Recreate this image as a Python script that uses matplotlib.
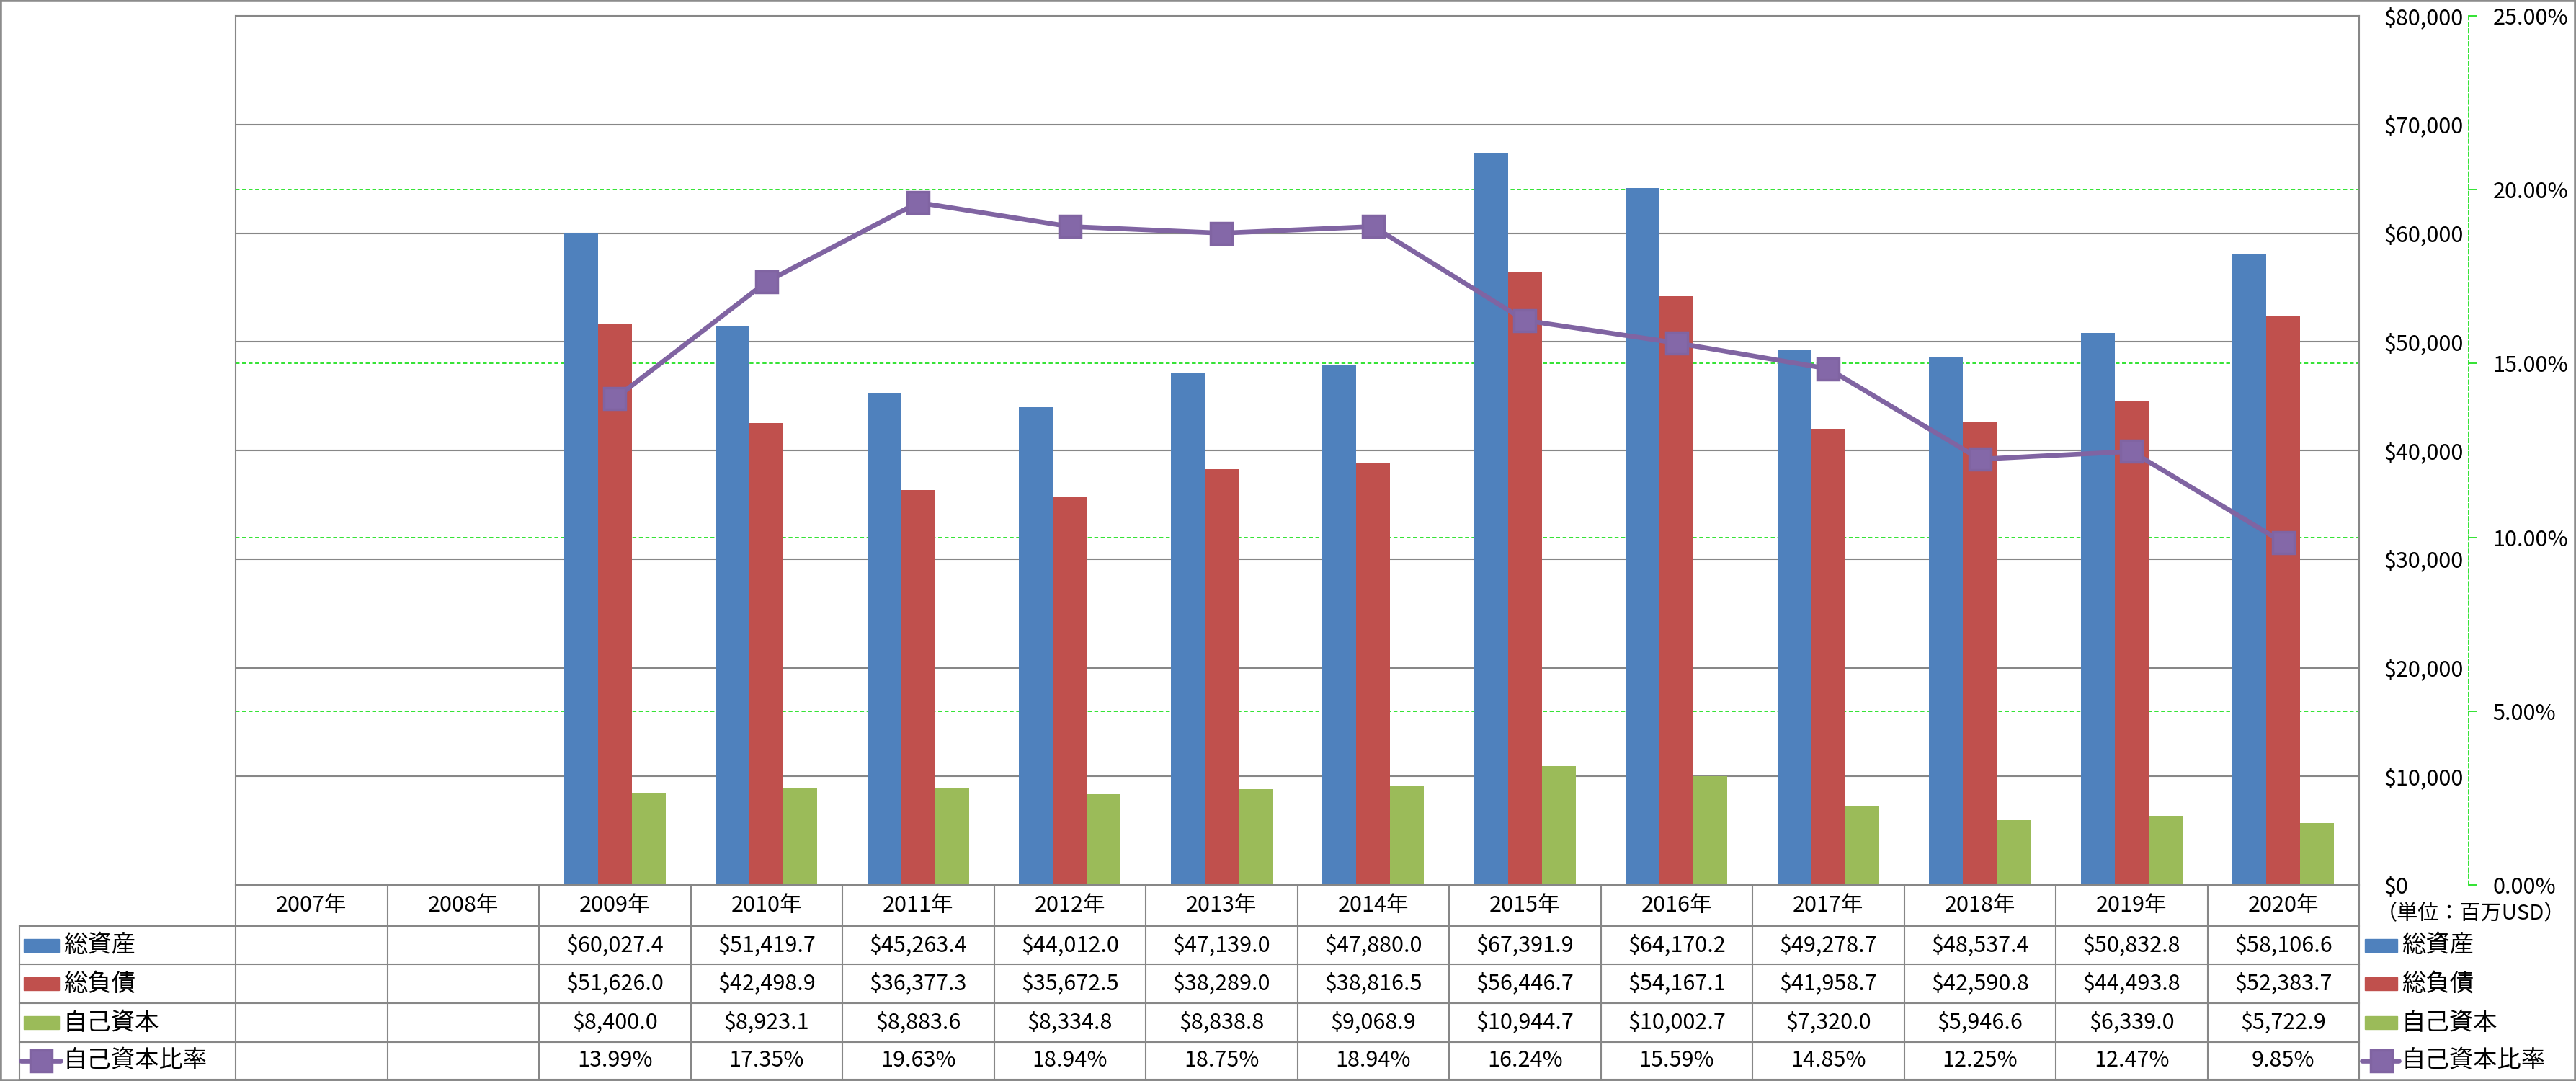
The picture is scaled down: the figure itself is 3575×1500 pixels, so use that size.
import matplotlib.pyplot as plt
import matplotlib.transforms as mtransforms
from matplotlib.lines import Line2D
from matplotlib.patches import Rectangle
import numpy as np

plt.rcParams['font.family'] = ['Noto Sans CJK JP', 'DejaVu Sans']

# --- data (百万USD) ---
years = ['2007年', '2008年', '2009年', '2010年', '2011年', '2012年', '2013年',
         '2014年', '2015年', '2016年', '2017年', '2018年', '2019年', '2020年']
nan = np.nan
total_assets = [nan, nan, 60027.4, 51419.7, 45263.4, 44012.0, 47139.0,
                47880.0, 67391.9, 64170.2, 49278.7, 48537.4, 50832.8, 58106.6]
total_liab = [nan, nan, 51626.0, 42498.9, 36377.3, 35672.5, 38289.0,
              38816.5, 56446.7, 54167.1, 41958.7, 42590.8, 44493.8, 52383.7]
equity = [nan, nan, 8400.0, 8923.1, 8883.6, 8334.8, 8838.8,
          9068.9, 10944.7, 10002.7, 7320.0, 5946.6, 6339.0, 5722.9]
equity_ratio = [nan, nan, 13.99, 17.35, 19.63, 18.94, 18.75,
                18.94, 16.24, 15.59, 14.85, 12.25, 12.47, 9.85]
series_names = ['総資産', '総負債', '自己資本', '自己資本比率']

BLUE = '#4F81BD'
RED = '#C0504D'
GREEN = '#9BBB59'
PURPLE = '#8064A2'
PURPLE_FACE = '#8468A8'
GRAY = '#878787'
GRID_GREEN = '#22E022'

W, H = 3575, 1500
FS = 22      # numbers
FS_JP = 24   # japanese labels


def fx(px):
    return px / W


def fy(py):
    return 1 - py / H


fig = plt.figure(figsize=(W / 100, H / 100), dpi=100)
L, R, T, B = 327, 3274, 22, 1228
ax = fig.add_axes([fx(L), fy(B), fx(R - L), (B - T) / H])

x = np.arange(len(years))
bw = 0.224
ax.bar(x - bw, total_assets, bw, color=BLUE, zorder=2)
ax.bar(x, total_liab, bw, color=RED, zorder=2)
ax.bar(x + bw, equity, bw, color=GREEN, zorder=2)

ax.set_xlim(-0.5, len(years) - 0.5)
ax.set_xticks([])
ymax, pmax = 80000, 25
ax.set_ylim(0, ymax)
ax.set_yticks(range(0, ymax + 1, 10000))
ax.yaxis.set_major_formatter(lambda v, p: f'${v:,.0f}')
# secondary-axis gridlines drawn behind bars (same levels as 5%,10%,...)
ax.set_yticks([p * ymax / pmax for p in (5, 10, 15, 20)], minor=True)
ax.grid(axis='y', which='major', color=GRAY, lw=1.5, zorder=0)
ax.grid(axis='y', which='minor', color=GRID_GREEN, lw=1.3, dashes=(3, 2), zorder=0)
ax.set_axisbelow(True)
for s in ax.spines.values():
    s.set_color(GRAY)
    s.set_linewidth(1.5)

# --- ratio line on secondary axis ---
ax2 = ax.twinx()
ax2.plot(x, equity_ratio, color=PURPLE, lw=4.8, marker='s', ms=21, mew=2.5,
         markerfacecolor=PURPLE_FACE, markeredgecolor=PURPLE, zorder=3)
for ln in ax2.lines:
    ln.set_markeredgecolor(PURPLE)
ax2.set_ylim(0, pmax)
ax2.set_yticks(range(0, pmax + 1, 5))
ax2.yaxis.set_major_formatter(lambda v, p: f'{v:.2f}%')
ax2.spines['right'].set_position(('axes', (3426 - L) / (R - L)))
ax2.spines['right'].set_color(GRID_GREEN)
ax2.spines['right'].set_linestyle((0, (3, 2)))
ax2.spines['right'].set_linewidth(1.3)
for k in ('left', 'top', 'bottom'):
    ax2.spines[k].set_visible(False)
ax2.tick_params(axis='y', length=8, width=1.3, color=GRID_GREEN, pad=16,
                labelsize=FS, direction='out')

# twinx moves the primary ticks to the left; put them back on the right
ax.yaxis.tick_right()
ax.tick_params(axis='y', which='both', length=0, pad=24.5, labelsize=FS)

fig.text(fx(3298), fy(1268), '（単位：百万USD）', fontsize=21, va='center', ha='left')

# --- data table ---
trans = mtransforms.blended_transform_factory(ax.transData, fig.transFigure)
rows_px = [1228, 1285, 1338, 1392, 1446, 1498]
for b in np.arange(-0.5, len(years)):
    fig.add_artist(Line2D([b, b], [fy(B), fy(rows_px[-1])], transform=trans,
                          color=GRAY, lw=1.5))
for r in rows_px[1:]:
    fig.add_artist(Line2D([fx(27), fx(R)], [fy(r), fy(r)], transform=fig.transFigure,
                          color=GRAY, lw=1.5))
fig.add_artist(Line2D([fx(27), fx(27)], [fy(rows_px[1]), fy(rows_px[-1])],
                      transform=fig.transFigure, color=GRAY, lw=1.5))

for i, yr in enumerate(years):
    fig.text(i, fy((rows_px[0] + rows_px[1]) / 2), yr, transform=trans,
             ha='center', va='center', fontsize=FS)

money_rows = [total_assets, total_liab, equity]
for r, vals in enumerate(money_rows):
    yc = fy((rows_px[r + 1] + rows_px[r + 2]) / 2)
    for i, v in enumerate(vals):
        if not np.isnan(v):
            fig.text(i, yc, f'${v:,.1f}', transform=trans, ha='center',
                     va='center', fontsize=FS)
yc = fy((rows_px[4] + rows_px[5]) / 2)
for i, v in enumerate(equity_ratio):
    if not np.isnan(v):
        fig.text(i, yc, f'{v:.2f}%', transform=trans, ha='center',
                 va='center', fontsize=FS)


# --- legend keys (table rows and right-hand legend) ---
def draw_key(x0, x1, ypx, kind, color, label):
    yc = fy(ypx)
    if kind == 'bar':
        fig.add_artist(Rectangle((fx(x0), yc - 9 / H), fx(x1 - x0), 18 / H,
                                 transform=fig.transFigure, color=color))
    else:
        fig.add_artist(Line2D([fx(x0 - 4), fx(x1 + 2)], [yc, yc],
                              transform=fig.transFigure, color=color, lw=4.8,
                              solid_capstyle='round'))
        fig.add_artist(Line2D([fx((x0 + x1) / 2)], [yc], transform=fig.transFigure,
                              marker='s', ms=21, mew=2.5, color=color,
                              markerfacecolor=PURPLE_FACE, markeredgecolor=color))
    fig.text(fx(x1 + 6), yc, label, fontsize=FS_JP, va='center', ha='left')


kinds = ['bar', 'bar', 'bar', 'line']
colors = [BLUE, RED, GREEN, PURPLE]
for r in range(4):
    ypx = (rows_px[r + 1] + rows_px[r + 2]) / 2
    draw_key(33, 82, ypx, kinds[r], colors[r], series_names[r])
    draw_key(3282, 3327, ypx, kinds[r], colors[r], series_names[r])

# chart frame
fig.add_artist(Rectangle((0, 0), 1, 1, transform=fig.transFigure, fill=False,
                         ec='#8C8C8C', lw=4))

fig.savefig('out.png', dpi=100)
